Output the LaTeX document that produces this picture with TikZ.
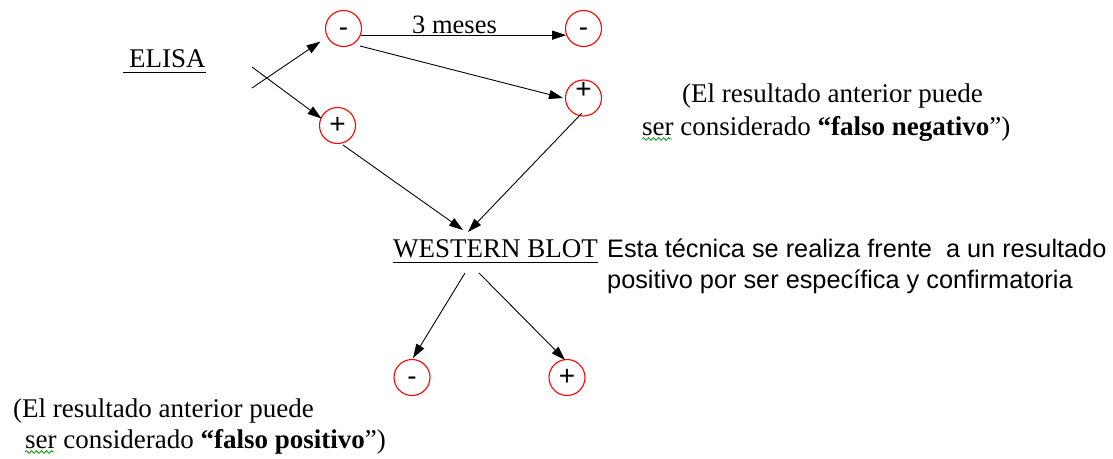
\documentclass[tikz,border=0pt]{standalone}
\usepackage{fontspec}
\setmainfont{Liberation Serif}
\newfontfamily\sansf{Liberation Sans}
\newcommand\signfont{\sansf\fontsize{28}{28}\selectfont}
\usetikzlibrary{arrows.meta,calc,decorations.pathmorphing}
\begin{document}
\begin{tikzpicture}[x=1pt,y=-1pt,
  sgntext/.style={font=\signfont,text height=16.5pt,text depth=0pt},
  sgn/.style={circle,draw=red,line width=1.1pt,minimum size=36pt,inner sep=0pt,sgntext},
  arr/.style={-{Triangle[length=14pt,width=9pt]},line width=0.9pt},
  serif/.style={inner sep=0pt,anchor=base west,font=\fontsize{27}{31}\selectfont},
  sans/.style={inner sep=0pt,anchor=base west,font=\sansf\fontsize{25.3}{31}\selectfont},
  uline/.style={line width=1pt},
  spell/.style={green!60!black,line width=0.8pt,decorate,decoration={snake,amplitude=1.3pt,segment length=5pt}}]
\useasboundingbox[fill=white] (0,0) rectangle (1113,458);

% circles
\node[sgn] (A) at (343.5,28.5) {-};
\node[sgn] (B) at (583.5,28.5) {-};
\node[sgn,label={[sgntext,inner sep=0pt,yshift=8pt]center:+}] (C) at (583.5,98) {};
\node[sgn] (D) at (337.5,125.5) {+};
\node[sgn] (E) at (412,377.5) {-};
\node[sgn] (F) at (567,377.5) {+};

% texts
\node[serif] (elisa) at (129,67) {ELISA};
\draw[uline] ([xshift=-6pt,yshift=-5pt]elisa.base west) -- ([yshift=-5pt]elisa.base east);
\node[serif] (wb) at (393,257) {WESTERN BLOT};
\draw[uline] ([yshift=-5pt]wb.base west) -- ([yshift=-5pt]wb.base east);
\node[serif,font=\fontsize{26.5}{31}\selectfont] (meses) at (412,33) {3 meses};

\node[sans] (t1) at (607,257) {Esta técnica se realiza frente\ \ a un resultado};
\node[sans] (t2) at (607,288) {positivo por ser específica y confirmatoria};

\node[serif] (r1) at (682,102) {(El resultado anterior puede};
\node[serif] (r2) at (642,135) {ser considerado \textbf{“falso negativo}”)};
\node[serif] (l1) at (13,417) {(El resultado anterior puede};
\node[serif] (l2) at (25,448) {ser considerado \textbf{“falso positivo}”)};
\draw[spell] ([yshift=-4pt]r2.base west) -- ++(30,0);
\draw[spell] ([yshift=-4pt]l2.base west) -- ++(29,0);

% cross
\coordinate (x1) at (252,88);
\coordinate (x2) at (252,67);

% connectors
\draw[arr] (x1) -- ($(A)+(-23,13)$);
\draw[arr] (x2) -- ($(D)+(-16,-7)$);
\draw[arr] (A.-21) -- (B.201);
\draw[arr] ($(A)+(16.5,17.5)$) -- ($(C)+(-20.5,0)$);
\draw[arr] ($(C)+(-1.8,15.3)$) -- ($(wb.base west)+(75,-25)$);
\draw[arr] ($(D)+(5.5,19.5)$) -- ($(wb.base west)+(70,-27)$);
\draw[arr] ($(wb.base west)+(72,16)$) -- ($(E)+(1,-19.5)$);
\draw[arr] ($(wb.base west)+(86,16)$) -- ($(F)+(-2,-17.5)$);
\end{tikzpicture}
\end{document}
